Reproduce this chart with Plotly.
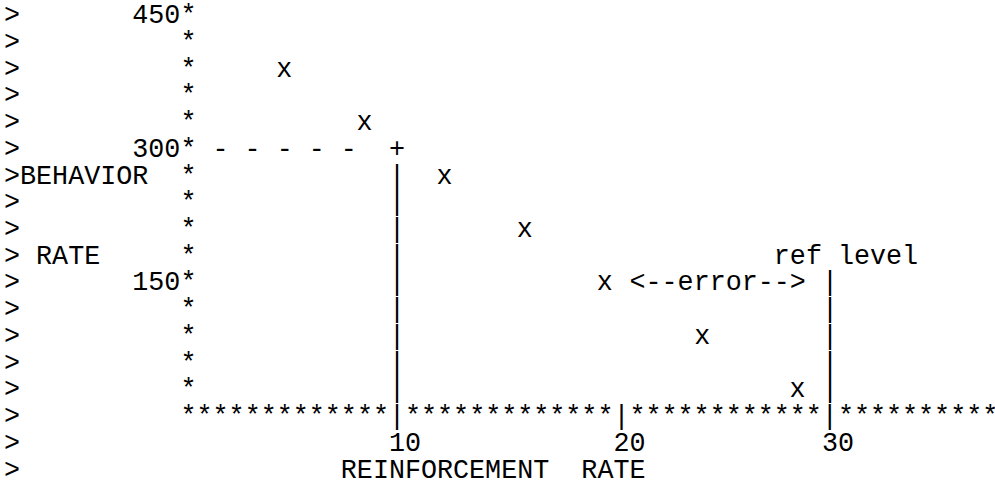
import plotly.graph_objects as go

# ---------------- data ----------------
reinforcement_rate = [4.8, 8.5, 12.2, 15.9, 19.6, 24.1, 28.5]
behavior_rate = [390, 330, 270, 210, 150, 90, 30]

x_tick_values = [10, 20, 30]
x_tick_labels = ["10", "20", "30"]
y_tick_values = [450, 300, 150]
y_tick_labels = ["450", "300", "150"]

set_point_rate = 10
set_point_behavior = 300
reference_level = 30
error_behavior = 150

x_title = "REINFORCEMENT  RATE"
y_title_lines = ["BEHAVIOR", "RATE"]
error_label = "<--error-->"
ref_label = "ref level"
quote_mark = ">"

# ---------------- character-grid geometry ----------------
W, H = 995, 481
FS = 26.73            # font size (px)
CW = FS * 0.6         # monospace advance
LH = 26.74            # line pitch
X0 = 4.0              # left edge of column 0 (px)
Y0 = 16.4             # text anchor of row 0 (px)
N_ROWS = 18
LAST_COL = 61
AXIS_COL = 11
COL_ORIGIN = 10.5     # column of reinforcement rate 0
COLS_PER_UNIT = 1.35
ROW_TOP_VALUE = 450
UNITS_PER_ROW = 30


def rate_at_col(c):
    return (c - COL_ORIGIN) / COLS_PER_UNIT


def col_of_rate(v):
    return round(COL_ORIGIN + COLS_PER_UNIT * v)


def beh_at_row(r):
    return ROW_TOP_VALUE - UNITS_PER_ROW * r


def row_of_beh(v):
    return round((ROW_TOP_VALUE - v) / UNITS_PER_ROW)


grid = {}


def put(row, col, text):
    for i, ch in enumerate(text):
        grid[(row, col + i)] = ch


axis_row = row_of_beh(0)

# e-mail quote markers
for r in range(N_ROWS):
    put(r, 0, quote_mark)

# y axis
for r in range(axis_row):
    put(r, AXIS_COL, "*")
for v, lab in zip(y_tick_values, y_tick_labels):
    put(row_of_beh(v), AXIS_COL - len(lab), lab)

# x axis
tick_cols = [col_of_rate(v) for v in x_tick_values]
ref_col = col_of_rate(reference_level)
for c in range(AXIS_COL, LAST_COL + 1):
    put(axis_row, c, "|" if c in tick_cols + [ref_col] else "*")
for c, lab in zip(tick_cols, x_tick_labels):
    put(axis_row + 1, c, lab)

# titles
put(axis_row + 2, 21, x_title)
put(6, 1, y_title_lines[0])
put(9, 2, y_title_lines[1])

# set point
sp_col = col_of_rate(set_point_rate)
sp_row = row_of_beh(set_point_behavior)
for c in range(AXIS_COL + 2, sp_col - 2, 2):
    put(sp_row, c, "-")
put(sp_row, sp_col, "+")
for r in range(sp_row + 1, axis_row):
    put(r, sp_col, "|")

# reference level and error
err_row = row_of_beh(error_behavior)
put(err_row - 1, ref_col - 3, ref_label)
for r in range(err_row, axis_row):
    put(r, ref_col, "|")
put(err_row, ref_col - 1 - len(error_label), error_label)

# group into runs of non-space characters
fx, fy, ft = [], [], []
for r in range(N_ROWS):
    cols = sorted(c for (rr, c) in grid if rr == r)
    run_start, run = None, ""
    prev = None
    for c in cols + [None]:
        ch = grid.get((r, c)) if c is not None else None
        if c is not None and ch != " " and prev is not None and c == prev + 1 and run:
            run += ch
        else:
            if run:
                center = run_start + (len(run) - 1) / 2
                fx.append(rate_at_col(center))
                fy.append(beh_at_row(r))
                ft.append(run)
            if c is not None and ch != " ":
                run_start, run = c, ch
            else:
                run_start, run = None, ""
        prev = c

font = dict(family="Liberation Mono, Courier New, monospace", size=FS, color="#000000")

fig = go.Figure()
fig.add_trace(go.Scatter(x=fx, y=fy, text=ft, mode="text",
                         textposition="middle center", textfont=font,
                         cliponaxis=False, hoverinfo="skip", showlegend=False))
fig.add_trace(go.Scatter(x=reinforcement_rate, y=behavior_rate,
                         text=["x"] * len(reinforcement_rate), mode="text",
                         textposition="middle center", textfont=font,
                         cliponaxis=False, hoverinfo="skip", showlegend=False))

x_left = rate_at_col(-X0 / CW - 0.5)
x_right = rate_at_col((W - X0) / CW - 0.5)
y_top = beh_at_row(-Y0 / LH)
y_bottom = beh_at_row((H - Y0) / LH)

fig.update_layout(
    width=W, height=H,
    margin=dict(l=0, r=0, t=0, b=0),
    paper_bgcolor="white", plot_bgcolor="white",
    xaxis=dict(range=[x_left, x_right], visible=False, fixedrange=True),
    yaxis=dict(range=[y_bottom, y_top], visible=False, fixedrange=True),
    hovermode=False,
)

fig.write_html(
    "out.html",
    config={"displayModeBar": False},
    post_script="document.body.style.margin='0';document.body.style.overflow='hidden';",
)
